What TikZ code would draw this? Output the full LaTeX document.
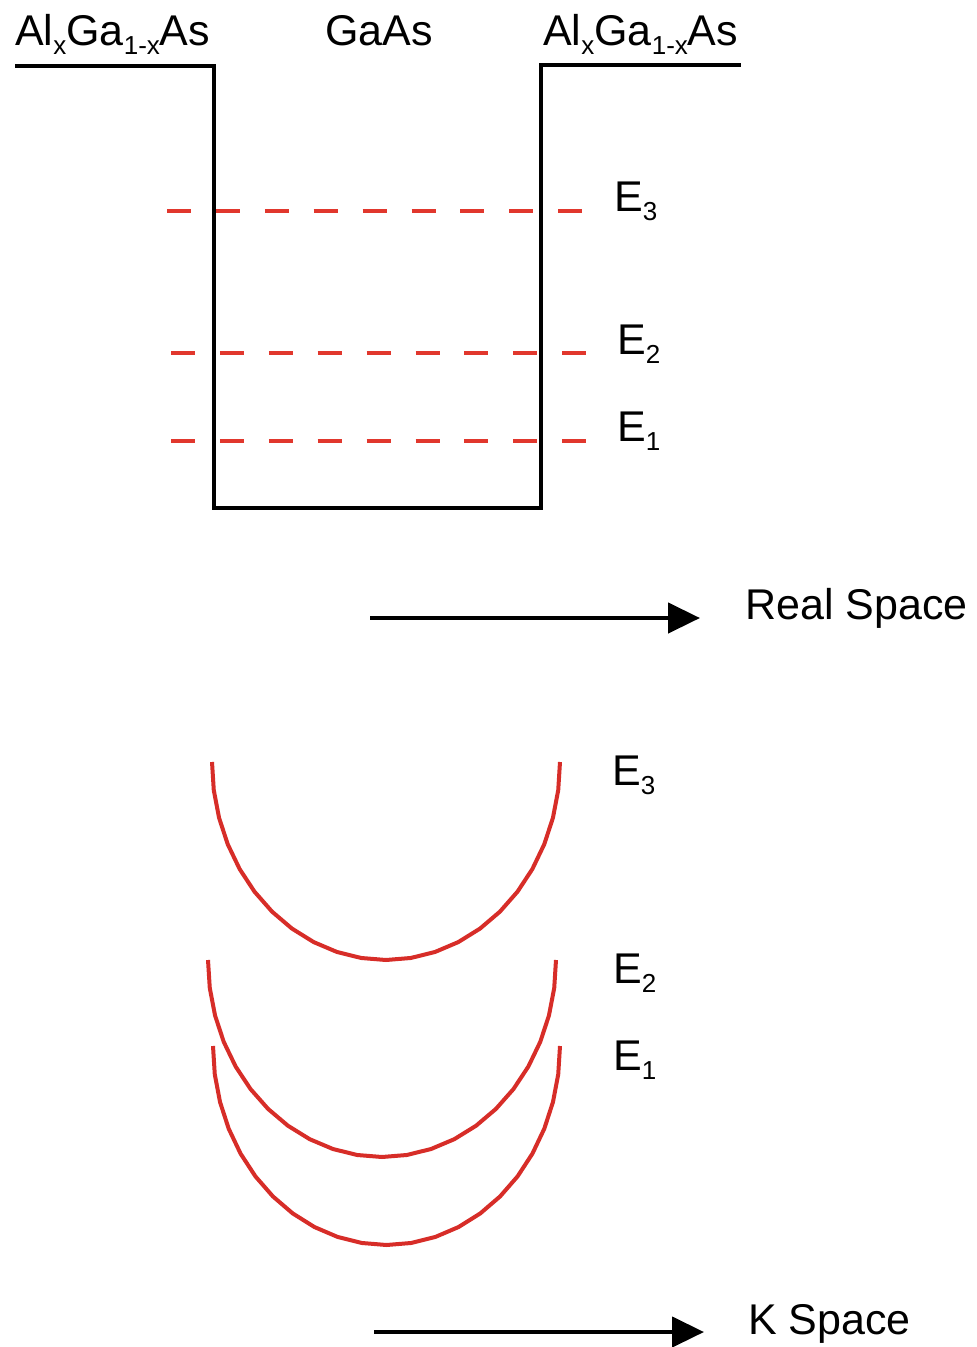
\documentclass[tikz,border=0pt]{standalone}
\usepackage{fontspec}
\setmainfont{Liberation Sans}
\usetikzlibrary{arrows.meta}
\definecolor{lvl}{RGB}{225,55,45}
\definecolor{band}{RGB}{215,45,40}
\newcommand\sbx[1]{\raisebox{-9pt}{\fontsize{26}{26}\selectfont #1}}
\begin{document}
\begin{tikzpicture}[x=1pt,y=-1pt,
 lbl/.style={anchor=base west,inner sep=0pt,font=\fontsize{43}{50}\selectfont},
 well/.style={line width=4.5pt,line join=miter},
 level/.style={lvl,line width=4.5pt,dash pattern=on 24pt off 24.9pt},
 bandc/.style={band,line width=4pt,line join=round},
 axis/.style={line width=4.5pt,-{Triangle[length=32pt,width=30pt]}}]
\fill[white] (0,0) rectangle (977,1347);
\useasboundingbox (0,0) rectangle (977,1347);
% titles
\node[lbl] (tl) at (15,45) {Al\sbx{x}Ga\sbx{1-x}As};
\node[lbl] (tm) at (325,45) {GaAs};
\node[lbl] (tr) at (543,45) {Al\sbx{x}Ga\sbx{1-x}As};
% well
\coordinate (w0) at (15,66);
\coordinate (w1) at (214,66);
\coordinate (w2) at (214,508);
\coordinate (w3) at (541,508);
\coordinate (w4) at (541,65);
\coordinate (w5) at (741,65);
\draw[well] (w0) -- (w1) -- (w2) -- (w3) -- (w4) -- (w5);
% levels
\coordinate (l3a) at (167,211); \coordinate (l3b) at (584,211);
\coordinate (l2a) at (171,353); \coordinate (l2b) at (588,353);
\coordinate (l1a) at (171,441); \coordinate (l1b) at (588,441);
\draw[level] (l3a) -- (l3b);
\draw[level] (l2a) -- (l2b);
\draw[level] (l1a) -- (l1b);
\node[lbl] (e3) at (614,211) {E\sbx{3}};
\node[lbl] (e2) at (617,354) {E\sbx{2}};
\node[lbl] (e1) at (617,441) {E\sbx{1}};
% real space axis
\coordinate (r0) at (370,618);
\coordinate (r1) at (700,618);
\draw[axis] (r0) -- (r1);
\node[lbl] (rs) at (745,619) {Real Space};
% k-space bands
\draw[bandc] plot[samples=23,domain=180:360] ({386+174*cos(\x)},{762-198*sin(\x)});
\draw[bandc] plot[samples=23,domain=180:360] ({382+174*cos(\x)},{960-197*sin(\x)});
\draw[bandc] plot[samples=23,domain=180:360] ({386.5+173.5*cos(\x)},{1046-199*sin(\x)});
\node[lbl] (k3) at (612,785) {E\sbx{3}};
\node[lbl] (k2) at (613,983) {E\sbx{2}};
\node[lbl] (k1) at (613,1070) {E\sbx{1}};
% k space axis
\coordinate (q0) at (374,1332);
\coordinate (q1) at (704,1332);
\draw[axis] (q0) -- (q1);
\node[lbl] (ks) at (748,1334) {K Space};
\end{tikzpicture}
\end{document}
